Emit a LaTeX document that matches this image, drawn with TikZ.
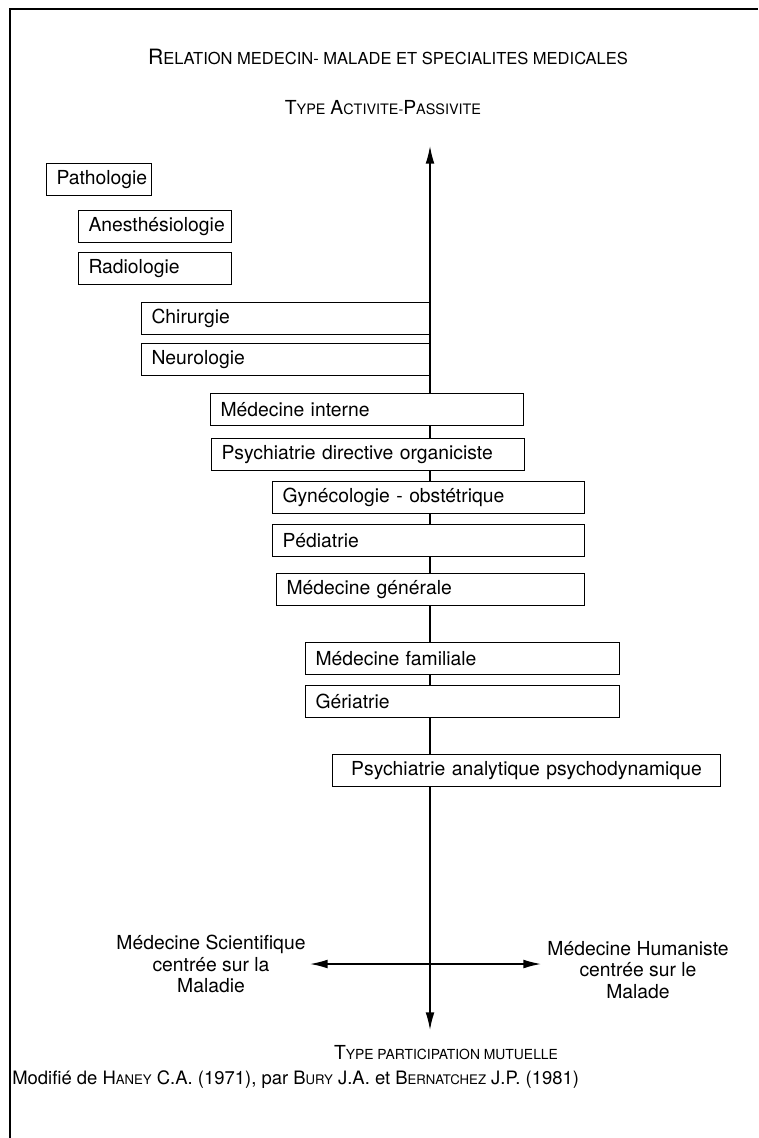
\documentclass[tikz,border=0pt]{standalone}
\usepackage{fontspec}
\setmainfont{TeX Gyre Heros}
\usetikzlibrary{arrows.meta}
\newcommand{\pc}[2][8]{{\fontsize{#1}{10}\selectfont #2}}
\newcommand{\gc}[2][10.5]{{\fontsize{#1}{12}\selectfont #2}}

\begin{document}
\begin{tikzpicture}[x=0.02cm,y=-0.02cm,>={Latex[length=10pt,width=5pt]},
spec/.style={draw,fill=white,line width=0.6pt,anchor=north west,
  minimum height=0.64cm,inner xsep=0.2cm,align=left,text width=#1,
  font=\fontsize{11}{13}\selectfont},
cote/.style={align=center,font=\fontsize{11}{12.2}\selectfont}]
\useasboundingbox (0,0) rectangle (758,1138);
\draw[line width=1.4pt] (10,1138) |- (758,9);

\node (titre) at (388,57) {\gc[12]{R}\pc[9.4]{ELATION MEDECIN- MALADE ET SPECIALITES MEDICALES}};
\node (actpas) at (383,108) {\gc[11]{T}\pc[8.2]{YPE} \gc[11]{A}\pc[8.2]{CTIVITE-}\gc[11]{P}\pc[8.2]{ASSIVITE}};

\coordinate (haut) at (430,146);
\coordinate (bas) at (430,1030);
\draw[<->,line width=0.8pt] (bas) -- (haut);

\node[spec=1.70cm] (patho) at (46,163) {Pathologie};
\node[spec=2.66cm] (anesth) at (78,210) {Anesthésiologie};
\node[spec=2.66cm] (radio) at (78,252) {Radiologie};
\node[spec=5.36cm] (chir) at (141,302) {Chirurgie};
\node[spec=5.36cm] (neuro) at (141,343) {Neurologie};
\node[spec=5.86cm] (medint) at (210,393) {Médecine interne};
\node[spec=5.86cm] (psydir) at (211,438) {Psychiatrie directive organiciste};
\node[spec=5.84cm] (gyneco) at (272,481) {Gynécologie - obstétrique};
\node[spec=5.84cm] (pedia) at (272,524) {Pédiatrie};
\node[spec=5.76cm] (medgen) at (276,573) {Médecine générale};
\node[spec=5.88cm] (medfam) at (305,642) {Médecine familiale};
\node[spec=5.88cm] (geria) at (305,685) {Gériatrie};
\node[spec=7.36cm,align=center] (psyana) at (332,754) {Psychiatrie analytique psychodynamique};

\node[cote] (scient) at (211,964) {Médecine Scientifique\\centrée sur la\\Maladie};
\node[cote] (human) at (638,970) {Médecine Humaniste\\centrée sur le\\Malade};
\coordinate (gauche) at (310,964);
\coordinate (droite) at (541,964);
\draw[<->,line width=0.8pt] (gauche) -- (droite);

\node (partmut) at (446,1053) {\gc[11]{T}\pc[7.9]{YPE PARTICIPATION MUTUELLE}};
\node[anchor=west,inner sep=0pt] (source) at (12,1080) {\gc{Modifié de H}\pc[7.5]{ANEY}\gc{ C.A. (1971), par B}\pc[7.5]{URY}\gc{ J.A. et B}\pc[7.5]{ERNATCHEZ}\gc{ J.P. (1981)}};
\end{tikzpicture}
\end{document}
